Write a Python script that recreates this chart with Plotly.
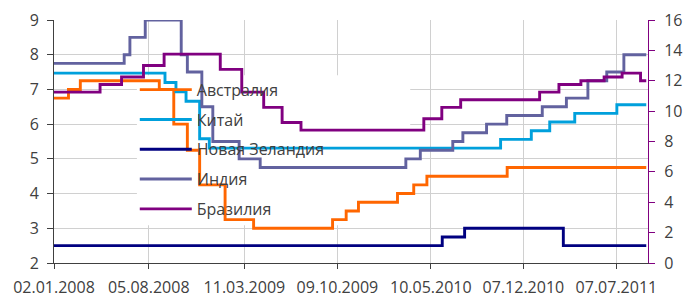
import plotly.graph_objects as go

# ---------------- data (step series: change dates and new values) ----------------
END_DATE = "2011-09-13"

aus_dates = ["2008-01-02", "2008-02-04", "2008-03-02", "2008-08-29", "2008-10-01", "2008-11-01",
             "2008-11-29", "2009-01-26", "2009-04-01", "2009-09-28", "2009-10-29", "2009-11-26",
             "2010-02-23", "2010-04-01", "2010-05-01", "2010-10-31"]
aus_values = [6.75, 7.0, 7.25, 7.0, 6.0, 5.25, 4.25, 3.25, 3.0, 3.25, 3.5, 3.75, 4.0, 4.25, 4.5, 4.75]

chn_dates = ["2008-01-02", "2008-09-11", "2008-10-06", "2008-10-29", "2008-11-29", "2008-12-21",
             "2010-10-16", "2010-12-25", "2011-02-05", "2011-04-03", "2011-07-08"]
chn_values = [7.47, 7.20, 6.93, 6.66, 5.58, 5.31, 5.56, 5.81, 6.06, 6.31, 6.56]

nzl_dates = ["2008-01-02", "2010-06-05", "2010-07-26", "2011-03-08"]
nzl_values = [2.5, 2.75, 3.0, 2.5]

ind_dates = ["2008-01-02", "2008-06-10", "2008-06-23", "2008-07-28", "2008-10-18", "2008-11-01",
             "2008-12-04", "2008-12-29", "2009-02-27", "2009-04-16", "2010-03-14", "2010-04-16",
             "2010-06-29", "2010-07-22", "2010-09-14", "2010-10-30", "2011-01-19", "2011-03-15",
             "2011-05-03", "2011-06-15", "2011-07-24"]
ind_values = [7.75, 8.0, 8.5, 9.0, 8.0, 7.5, 6.5, 5.5, 5.0, 4.75, 5.0, 5.25, 5.5, 5.75, 6.0, 6.25,
              6.5, 6.75, 7.25, 7.5, 8.0]

bra_dates = ["2008-01-02", "2008-04-16", "2008-06-04", "2008-07-24", "2008-09-09", "2009-01-15",
             "2009-03-05", "2009-04-24", "2009-06-05", "2009-07-18", "2010-04-24", "2010-06-04",
             "2010-07-17", "2011-01-13", "2011-02-26", "2011-04-17", "2011-06-09", "2011-07-20",
             "2011-08-31"]
bra_values = [11.25, 11.75, 12.25, 13.0, 13.75, 12.75, 11.25, 10.25, 9.25, 8.75, 9.5, 10.25, 10.75,
              11.25, 11.75, 12.0, 12.25, 12.5, 12.0]

series_names = ["Австралия", "Китай", "Новая Зеландия", "Индия", "Бразилия"]

tick_dates = ["2008-01-02", "2008-08-05", "2009-03-11", "2009-10-09", "2010-05-10", "2010-12-07", "2011-07-07"]
tick_labels = ["02.01.2008", "05.08.2008", "11.03.2009", "09.10.2009", "10.05.2010", "07.12.2010", "07.07.2011"]

# ---------------- styling ----------------
FONT = "Open Sans"
TXT = "#404040"
GRID = "#d0d0d0"
colors = ["#FF6600", "#00A0DC", "#000080", "#62629F", "#800080"]

fig = go.Figure()

all_series = [(aus_dates, aus_values, "y"), (chn_dates, chn_values, "y"), (nzl_dates, nzl_values, "y"),
              (ind_dates, ind_values, "y"), (bra_dates, bra_values, "y2")]

for i, ((d, v, ax), name) in enumerate(zip(all_series, series_names)):
    fig.add_trace(go.Scatter(
        x=d + [END_DATE], y=v + [v[-1]], name=name, mode="lines",
        line=dict(color=colors[i], width=2.9, shape="hv"),
        yaxis=ax, legendgroup=f"g{i}",
    ))

# white legend backdrop: above gridlines, below the lines (as in the original)
fig.add_shape(type="rect", xref="x", yref="y",
              x0="2008-07-09", x1="2010-03-24", y0=3.09, y1=7.41,
              fillcolor="white", line=dict(width=0), layer="between")

fig.update_layout(
    width=695, height=298,
    margin=dict(l=54, r=47, t=20, b=35),
    paper_bgcolor="white", plot_bgcolor="white",
    font=dict(family=FONT, size=16, color=TXT),
    showlegend=True,
    legend=dict(
        x=0.136, y=0.783, xanchor="left", yanchor="top",
        bgcolor="rgba(0,0,0,0)", borderwidth=0,
        font=dict(family=FONT, size=16, color=TXT),
        traceorder="grouped", tracegroupgap=6, itemwidth=52,
    ),
    xaxis=dict(
        type="date", range=["2008-01-02", "2011-09-17"],
        tickvals=tick_dates, ticktext=tick_labels,
        showline=True, linecolor=TXT, linewidth=1,
        ticks="outside", ticklen=5, tickcolor=TXT,
        showgrid=True, gridcolor=GRID, gridwidth=1,
        tickfont=dict(family=FONT, size=16, color=TXT),
        ticklabelstandoff=5, automargin=False,
    ),
    yaxis=dict(
        range=[2, 9], dtick=1,
        showline=True, linecolor=TXT, linewidth=1,
        ticks="outside", ticklen=6, tickcolor=TXT,
        showgrid=True, gridcolor=GRID, gridwidth=1, zeroline=False,
        tickfont=dict(family=FONT, size=16, color=TXT),
        ticklabelstandoff=5, automargin=False,
    ),
    yaxis2=dict(
        range=[0, 16], dtick=2, overlaying="y", side="right",
        showline=True, linecolor="#800080", linewidth=1,
        ticks="outside", ticklen=6, tickcolor="#800080",
        showgrid=False, zeroline=False,
        tickfont=dict(family=FONT, size=16, color=TXT),
        ticklabelstandoff=6, automargin=False,
    ),
    yaxis3=dict(
        range=[0, 16], dtick=2, overlaying="y", side="right",
        showline=False, ticks="inside", ticklen=6, tickcolor="#800080",
        showticklabels=False, showgrid=False, zeroline=False, automargin=False,
    ),
)

fig.write_html(
    "out.html",
    config={"displayModeBar": False},
    post_script="document.body.style.margin='0';document.body.style.overflow='hidden';",
)
